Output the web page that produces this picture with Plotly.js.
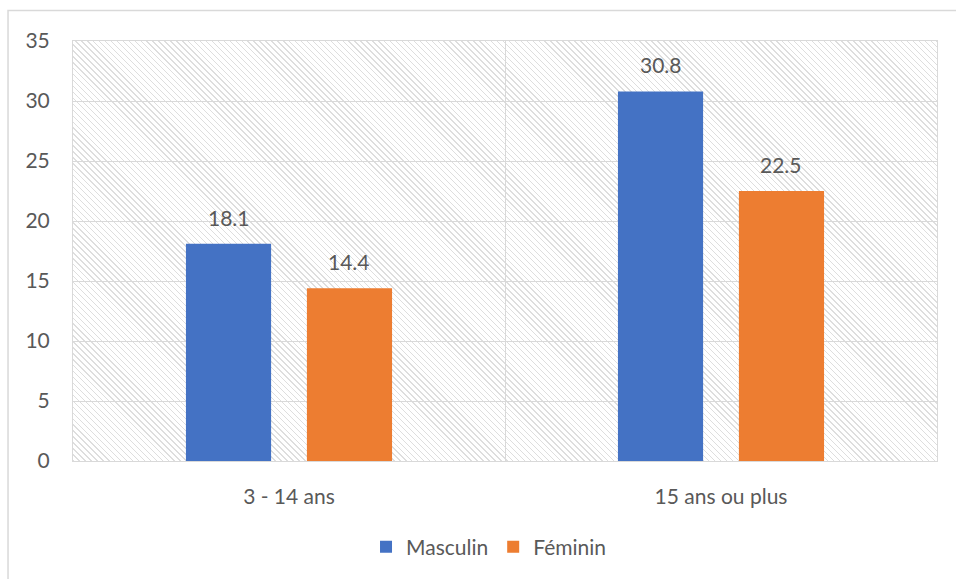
<!DOCTYPE html>
<html>
<head>
<meta charset="utf-8">
<script src="https://cdn.plot.ly/plotly-3.0.1.min.js"></script>
<style>
  html, body { margin: 0; padding: 0; background: #fff; }
  #wrap { position: relative; width: 956px; height: 579px; }
  #hatch {
    position: absolute; left: 73px; top: 41px; width: 864px; height: 420px;
    background: repeating-linear-gradient(45deg, #dedede 0px, #dedede 1px, #ffffff 1px, #ffffff 4.2px);
  }
  #chart { position: absolute; left: 0; top: 0; width: 956px; height: 579px; }
</style>
</head>
<body>
<div id="wrap">
  <div id="hatch"></div>
  <div id="chart"></div>
</div>
<script>
const categories = ["3 - 14 ans", "15 ans ou plus"];
const masculin = [18.1, 30.8];
const feminin = [14.4, 22.5];
const seriesNames = ["Masculin", "Féminin"];
const seriesColors = ["#4472C4", "#ED7D31"];
const yTicks = [0, 5, 10, 15, 20, 25, 30, 35];

const xIdx = categories.map((c, i) => i);
const fontFam = "Lato, 'Open Sans', sans-serif";
const txtColor = "#595959";
const fs = 21;

const traces = [masculin, feminin].map((vals, s) => ({
  type: "bar",
  x: xIdx,
  y: vals,
  name: seriesNames[s],
  marker: { color: seriesColors[s] },
  hoverinfo: "skip"
}));

const offs = [-0.14, 0.14];
const annotations = [];
[masculin, feminin].forEach((vals, s) => {
  vals.forEach((v, i) => {
    annotations.push({
      x: i + offs[s], y: v, xref: "x", yref: "y",
      text: v.toFixed(1), showarrow: false,
      yanchor: "bottom", yshift: 12,
      font: { family: fontFam, size: fs, color: txtColor }
    });
  });
});

const layout = {
  width: 956, height: 579,
  margin: { l: 73, r: 19, t: 41, b: 118, pad: 0 },
  paper_bgcolor: "rgba(0,0,0,0)",
  plot_bgcolor: "rgba(0,0,0,0)",
  barmode: "group",
  bargap: 0.44,
  bargroupgap: 0.296,
  font: { family: fontFam, size: fs, color: txtColor },
  xaxis: {
    range: [-0.5, 1.5],
    tickvals: xIdx, ticktext: categories,
    showgrid: false, zeroline: false,
    showline: true, mirror: true, linecolor: "#d9d9d9", linewidth: 1,
    ticks: "", ticklabelstandoff: 17,
    minor: { tickvals: [0.5], showgrid: true, gridcolor: "#d9d9d9", gridwidth: 1, ticks: "" },
    fixedrange: true
  },
  yaxis: {
    range: [0, 35],
    tickvals: yTicks,
    showgrid: true, gridcolor: "#d9d9d9", gridwidth: 1,
    zeroline: false,
    showline: true, mirror: true, linecolor: "#d9d9d9", linewidth: 1,
    ticks: "", ticklabelstandoff: 18,
    fixedrange: true
  },
  legend: {
    orientation: "h", x: 0.4815, xanchor: "center", y: -0.205, yanchor: "middle",
    font: { family: fontFam, size: fs, color: txtColor },
    itemclick: false, itemdoubleclick: false
  },
  shapes: [{
    type: "rect", xref: "paper", yref: "paper",
    x0: -0.0752, x1: 1.05, y0: -0.4, y1: 1.0726,
    line: { color: "#d9d9d9", width: 1.5 }, fillcolor: "rgba(0,0,0,0)"
  }],
  annotations: annotations,
  showlegend: true
};

Plotly.newPlot("chart", traces, layout, { displayModeBar: false, staticPlot: true });
</script>
</body>
</html>
